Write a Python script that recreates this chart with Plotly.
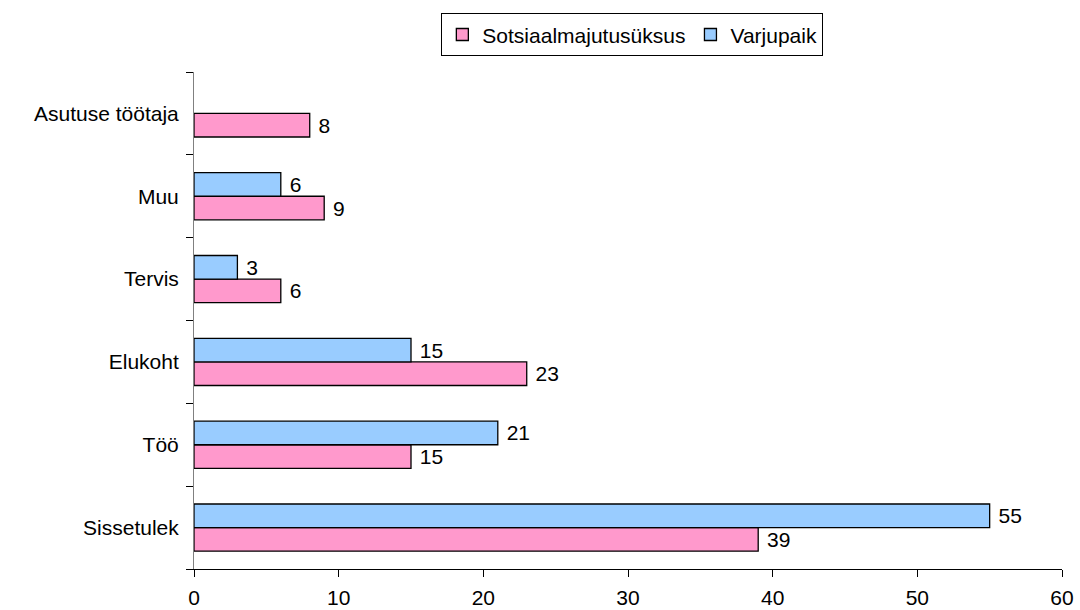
import plotly.graph_objects as go

categories = ["Sissetulek", "Töö", "Elukoht", "Tervis", "Muu", "Asutuse töötaja"]
sotsiaal = [39, 15, 23, 6, 9, 8]
varjupaik = [55, 21, 15, 3, 6, None]
x_ticks = [0, 10, 20, 30, 40, 50, 60]

fig = go.Figure()
fig.add_trace(go.Bar(
    y=categories, x=sotsiaal, orientation="h", name="Sotsiaalmajutusüksus",
    marker=dict(color="#FF99CC", line=dict(color="#000000", width=1.3)),
    text=[" " + str(v) for v in sotsiaal], textposition="outside",
    textfont=dict(size=21, color="#000000"), cliponaxis=False,
))
fig.add_trace(go.Bar(
    y=categories, x=varjupaik, orientation="h", name="Varjupaik",
    marker=dict(color="#99CCFF", line=dict(color="#000000", width=1.3)),
    text=["" if v is None else " " + str(v) for v in varjupaik], textposition="outside",
    textfont=dict(size=21, color="#000000"), cliponaxis=False,
))

fig.update_layout(
    width=1080, height=610,
    margin=dict(l=194, r=18, t=72, b=41),
    paper_bgcolor="white", plot_bgcolor="white",
    barmode="group", bargap=0.43, bargroupgap=0,
    font=dict(family="Liberation Sans, Arial, sans-serif", size=21, color="#000000"),
    legend=dict(
        orientation="h", x=0.505, y=1.118, xanchor="center", yanchor="top",
        bordercolor="#000000", borderwidth=1, font=dict(size=21),
        traceorder="normal", itemwidth=30, tracegroupgap=0,
    ),
)
fig.update_xaxes(
    range=[0, 60], tickvals=x_ticks, ticktext=[str(v) for v in x_ticks],
    showgrid=False, zeroline=False, showline=True, linecolor="#000000", linewidth=1,
    ticks="outside", ticklen=7, tickcolor="#000000", tickfont=dict(size=21),
    ticklabelstandoff=3, automargin=False,
)
fig.update_yaxes(
    categoryorder="array", categoryarray=categories,
    showgrid=False, showline=True, linecolor="#808080", linewidth=1,
    ticks="outside", tickson="boundaries", ticklen=7, tickcolor="#000000",
    tickfont=dict(size=21), ticklabelstandoff=10, automargin=False,
)

fig.write_html(
    "out.html",
    config={"displayModeBar": False},
    post_script="document.body.style.margin='0';document.body.style.overflow='hidden';",
)
